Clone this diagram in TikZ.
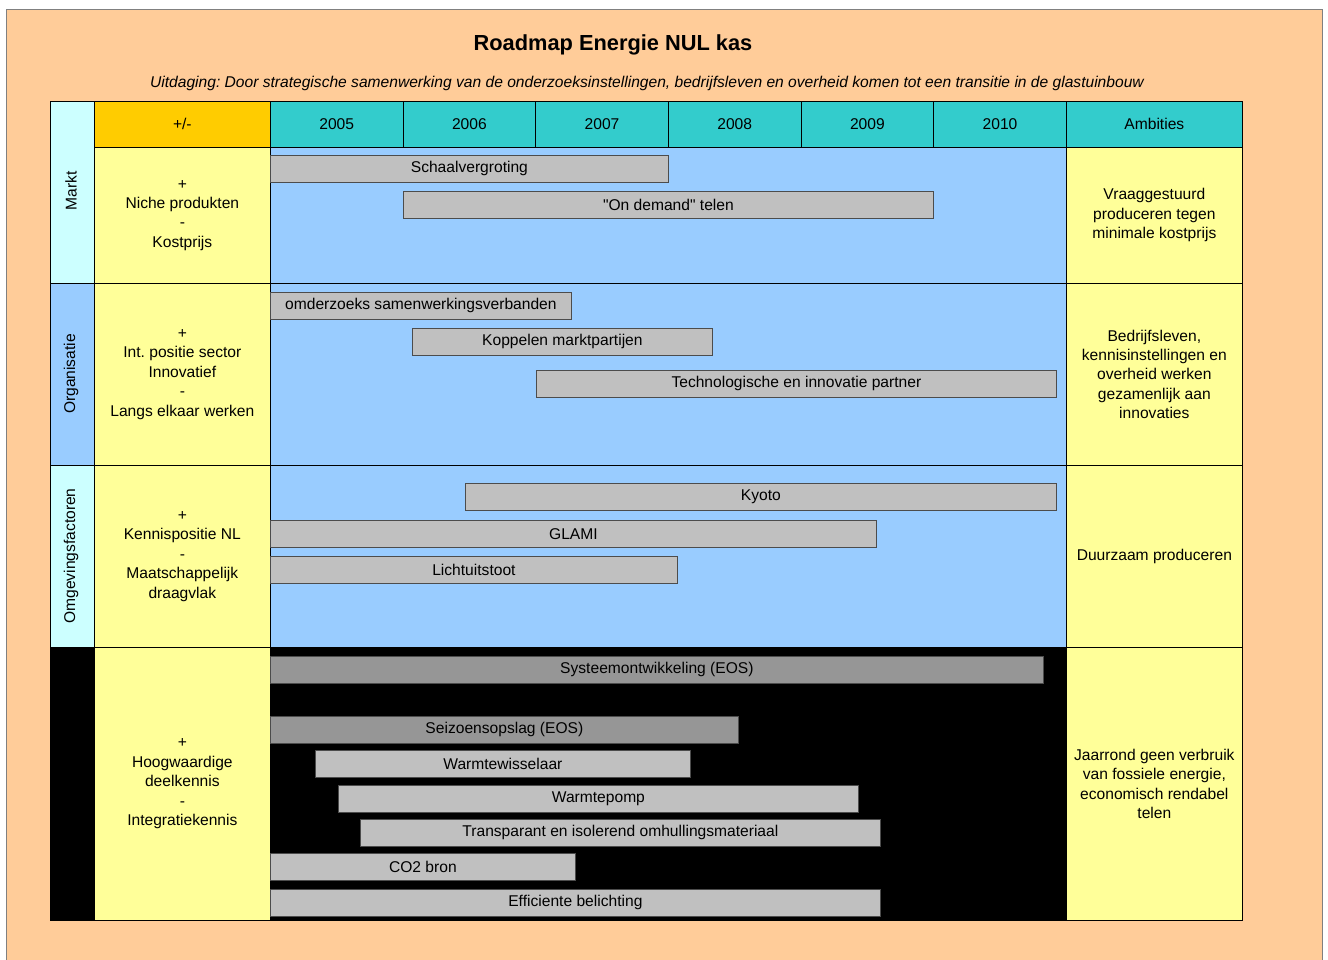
\documentclass[tikz,border=0pt]{standalone}
\usepackage{fontspec}
\setmainfont{Liberation Sans}
\usepackage{tikz}
\usetikzlibrary{positioning}
\definecolor{cFRAME}{HTML}{FFCC99}
\definecolor{cHEAD}{HTML}{33CCCC}
\definecolor{cPM}{HTML}{FFCC00}
\definecolor{cNOTE}{HTML}{FFFF99}
\definecolor{cLIGHT}{HTML}{CCFFFF}
\definecolor{cSKY}{HTML}{99CCFF}
\definecolor{cBAR}{HTML}{C0C0C0}
\definecolor{cEOS}{HTML}{969696}
\frenchspacing

\begin{document}
\begin{tikzpicture}[x=1pt, y=-1pt, font=\fontsize{15.6}{19.4}\selectfont,
  cell/.style={draw=black, line width=0.7pt, anchor=north west, inner sep=0pt, align=center},
  bar/.style={draw=black!70, line width=0.8pt, fill=cBAR, anchor=north west, inner sep=0pt, minimum height=27pt},
  eosbar/.style={bar, fill=cEOS}]
  \useasboundingbox (0,0) rectangle (1328,960);

  % Frame and titles
  \fill[white] (0,0) rectangle (1328,960);
  \draw[fill=cFRAME, draw=black!50, line width=1pt] (6,10) rectangle (1322,975);
  \node[font=\fontsize{21.8}{24}\selectfont\bfseries] (title) at (613,45) {Roadmap Energie NUL kas};
  \node[font=\fontsize{15.6}{18}\selectfont\itshape] (sub) at (647,83) {Uitdaging: Door strategische samenwerking van de onderzoeksinstellingen, bedrijfsleven en overheid komen tot een transitie in de glastuinbouw};

  % Left label column
  \draw[cell, fill=cLIGHT] (50,101) rectangle (94,283);
  \draw[cell, fill=cSKY] (50,283) rectangle (94,465);
  \draw[cell, fill=cLIGHT] (50,465) rectangle (94,647);
  \draw[cell, fill=black] (50,647) rectangle (94,920);
  \node[rotate=90] (markt) at (71,191) {Markt};
  \node[rotate=90] (org) at (71,374) {Organisatie};
  \node[rotate=90] (omg) at (71,556) {Omgevingsfactoren};

  % Header row
  \node[cell, fill=cPM, minimum width=176pt, minimum height=46pt] (pm) at (94,101) {+/-};
  \foreach \yr [count=\i from 0] in {2005,2006,2007,2008,2009,2010}
    \node[cell, fill=cHEAD, minimum width=132.67pt, minimum height=46pt] (y\yr) at ({270+\i*132.67},101) {\yr};
  \node[cell, fill=cHEAD, minimum width=176pt, minimum height=46pt] (amb) at (1066,101) {Ambities};

  % Rows: +/- column, timeline, ambities
  \node[cell, fill=cNOTE, minimum width=176pt, minimum height=136pt] (pmMarkt) at (94,147) {+\\Niche produkten\\-\\Kostprijs};
  \node[cell, fill=cSKY, minimum width=796pt, minimum height=136pt] (tMarkt) at (270,147) {};
  \node[cell, fill=cNOTE, minimum width=176pt, minimum height=136pt] (ambMarkt) at (1066,147) {Vraaggestuurd\\produceren tegen\\minimale kostprijs};

  \node[cell, fill=cNOTE, minimum width=176pt, minimum height=182pt] (pmOrg) at (94,283) {+\\Int. positie sector\\Innovatief\\-\\Langs elkaar werken};
  \node[cell, fill=cSKY, minimum width=796pt, minimum height=182pt] (tOrg) at (270,283) {};
  \node[cell, fill=cNOTE, minimum width=176pt, minimum height=182pt] (ambOrg) at (1066,283) {Bedrijfsleven,\\kennisinstellingen en\\overheid werken\\gezamenlijk aan\\innovaties};

  \node[cell, fill=cNOTE, minimum width=176pt, minimum height=182pt] (pmOmg) at (94,465) {+\\Kennispositie NL\\-\\Maatschappelijk\\draagvlak};
  \node[cell, fill=cSKY, minimum width=796pt, minimum height=182pt] (tOmg) at (270,465) {};
  \node[cell, fill=cNOTE, minimum width=176pt, minimum height=182pt] (ambOmg) at (1066,465) {Duurzaam produceren};

  \node[cell, fill=cNOTE, minimum width=176pt, minimum height=273pt] (pmTech) at (94,647) {+\\Hoogwaardige\\deelkennis\\-\\Integratiekennis};
  \node[cell, fill=black, minimum width=796pt, minimum height=273pt] (tTech) at (270,647) {};
  \node[cell, fill=cNOTE, minimum width=176pt, minimum height=273pt] (ambTech) at (1066,647) {Jaarrond geen verbruik\\van fossiele energie,\\economisch rendabel\\telen};

  % Bars: Markt
  \node[bar, minimum width=398pt] (schaal) at (270,155) {Schaalvergroting};
  \node[bar, minimum width=530pt] (demand) at (403,191) {\textquotedbl On demand\textquotedbl\ telen};

  % Bars: Organisatie
  \node[bar, minimum width=301pt] (samen) at (270,292) {omderzoeks samenwerkingsverbanden};
  \node[bar, minimum width=300pt] (koppel) at (412,328) {Koppelen marktpartijen};
  \node[bar, minimum width=520pt] (partner) at (536,370) {Technologische en innovatie partner};

  % Bars: Omgevingsfactoren
  \node[bar, minimum width=591pt] (kyoto) at (465,483) {Kyoto};
  \node[bar, minimum width=606pt] (glami) at (270,520) {GLAMI};
  \node[bar, minimum width=407pt] (licht) at (270,556) {Lichtuitstoot};

  % Bars: techniek
  \node[eosbar, minimum width=773pt] (systeem) at (270,656) {Systeemontwikkeling (EOS)};
  \node[eosbar, minimum width=468pt] (seizoen) at (270,716) {Seizoensopslag (EOS)};
  \node[bar, minimum width=375pt] (wissel) at (315,750) {Warmtewisselaar};
  \node[bar, minimum width=520pt] (pomp) at (338,785) {Warmtepomp};
  \node[bar, minimum width=520pt] (omhul) at (360,819) {Transparant en isolerend omhullingsmateriaal};
  \node[bar, minimum width=305pt] (co2) at (270,853) {CO2 bron};
  \node[bar, minimum width=610pt] (belicht) at (270,889) {Efficiente belichting};
\end{tikzpicture}
\end{document}
